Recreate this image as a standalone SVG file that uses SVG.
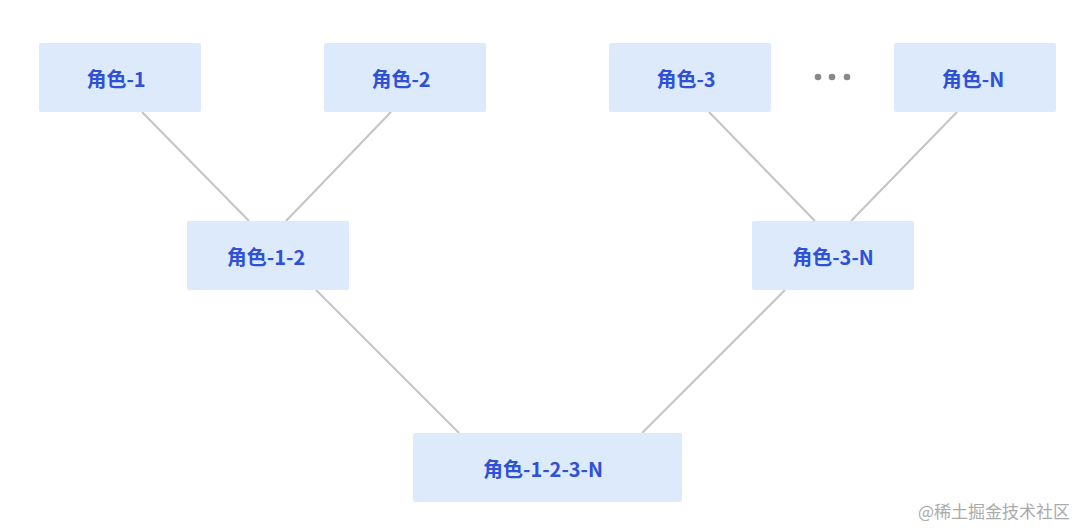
<svg xmlns="http://www.w3.org/2000/svg" width="1080" height="528" viewBox="0 0 1080 528">
<style>
.n rect{fill:#dceafb;}
.n text{font-family:"Noto Sans CJK SC","Noto Sans",sans-serif;font-weight:bold;font-size:20px;fill:#2f50d8;text-anchor:middle;dominant-baseline:central;}
.c line{stroke:#c4c4c4;stroke-width:2;}
</style>
<rect width="1080" height="528" fill="#fff"/>
<g class="c" id="connectors">
<line x1="142" y1="112" x2="249" y2="221"/>
<line x1="391" y1="112" x2="286" y2="221"/>
<line x1="709" y1="112" x2="815" y2="221"/>
<line x1="957" y1="112" x2="851" y2="221"/>
<line x1="316" y1="290" x2="459" y2="433"/>
<line x1="785" y1="290" x2="642" y2="433"/>
</g>
<g class="n" id="n1"><rect x="39" y="43" width="162" height="69" rx="2"/><text x="116" y="78">角色-1</text></g>
<g class="n" id="n2"><rect x="324" y="43" width="162" height="69" rx="2"/><text x="401" y="78">角色-2</text></g>
<g class="n" id="n3"><rect x="609" y="43" width="162" height="69" rx="2"/><text x="686" y="78">角色-3</text></g>
<g class="n" id="nN"><rect x="894" y="43" width="162" height="69" rx="2"/><text x="973" y="78">角色-N</text></g>
<g id="dots" fill="#888"><circle cx="818" cy="77" r="3.3"/><circle cx="832" cy="77" r="3.3"/><circle cx="847" cy="77" r="3.3"/></g>
<g class="n" id="n12"><rect x="187" y="221" width="162" height="69" rx="2"/><text x="266" y="256">角色-1-2</text></g>
<g class="n" id="n3N"><rect x="752" y="221" width="162" height="69" rx="2"/><text x="833" y="256">角色-3-N</text></g>
<g class="n" id="nall"><rect x="413" y="433" width="269" height="69" rx="2"/><text x="543" y="468">角色-1-2-3-N</text></g>
<text x="1070" y="518" text-anchor="end" font-family="Noto Sans CJK SC,sans-serif" font-size="17" fill="#aaa">@稀土掘金技术社区</text>
</svg>
